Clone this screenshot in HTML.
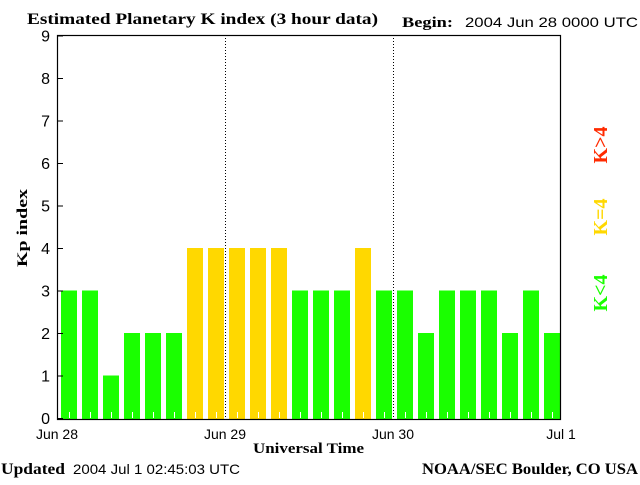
<!DOCTYPE html>
<html><head><meta charset="utf-8"><style>
body{margin:0;background:#fff;}
svg text{font-family:"Liberation Sans",sans-serif;}
</style></head><body>
<svg id="chart" width="640" height="480" xmlns="http://www.w3.org/2000/svg">
<text x="27" y="24" font-size="16" textLength="351" lengthAdjust="spacingAndGlyphs" style="font-family:'Liberation Serif',serif;font-weight:bold">Estimated Planetary K index (3 hour data)</text>
<text x="402" y="27" font-size="15" textLength="51" lengthAdjust="spacingAndGlyphs" style="font-family:'Liberation Serif',serif;font-weight:bold">Begin:</text>
<text x="465" y="27" font-size="14" textLength="173" lengthAdjust="spacingAndGlyphs">2004 Jun 28 0000 UTC</text>
<g id="bars"></g>
<g id="axes"></g>
<text transform="translate(27,228) rotate(-90)" text-anchor="middle" font-size="15" textLength="78" lengthAdjust="spacingAndGlyphs" style="font-family:'Liberation Serif',serif;font-weight:bold">Kp index</text>
<text x="253" y="453" font-size="15" textLength="111" lengthAdjust="spacingAndGlyphs" style="font-family:'Liberation Serif',serif;font-weight:bold">Universal Time</text>
<text x="1" y="474" font-size="16" textLength="64" lengthAdjust="spacingAndGlyphs" style="font-family:'Liberation Serif',serif;font-weight:bold">Updated</text>
<text x="73" y="474" font-size="14" textLength="167" lengthAdjust="spacingAndGlyphs">2004 Jul  1 02:45:03 UTC</text>
<text x="422" y="474" font-size="16" textLength="216" lengthAdjust="spacingAndGlyphs" style="font-family:'Liberation Serif',serif;font-weight:bold">NOAA/SEC Boulder, CO USA</text>
<text transform="translate(607,145) rotate(-90)" text-anchor="middle" font-size="20" fill="#ff2a00" style="font-family:'Liberation Serif',serif;font-weight:bold">K&gt;4</text>
<text transform="translate(607,217) rotate(-90)" text-anchor="middle" font-size="20" fill="#ffd800" style="font-family:'Liberation Serif',serif;font-weight:bold">K=4</text>
<text transform="translate(607,293) rotate(-90)" text-anchor="middle" font-size="20" fill="#1aff00" style="font-family:'Liberation Serif',serif;font-weight:bold">K&lt;4</text>
</svg>
<script>
const kpValues=[3,3,1,2,2,2,4,4,4,4,4,3,3,3,4,3,3,2,3,3,3,2,3,2];
const yTicks=[0,1,2,3,4,5,6,7,8,9];
const dayLabels=["Jun 28","Jun 29","Jun 30","Jul 1"];
const NS="http://www.w3.org/2000/svg";
const X0=57,X1=560,Y0=418,YT=35,PPU=42.5,SLOT=21;
function y(v){return Y0-v*PPU;}
function x(i){return X0+i*SLOT;}
function mk(t,a,p){const e=document.createElementNS(NS,t);for(const k in a)e.setAttribute(k,a[k]);p.appendChild(e);return e;}
const bars=document.getElementById('bars'),axes=document.getElementById('axes');
kpValues.forEach((v,i)=>{
 const c=v>4?'#ff2a00':(v==4?'#ffd800':'#1aff00');
 const r=mk('rect',{x:x(i)+4,y:y(v),width:16,height:Y0-y(v)+1,fill:c},bars);
 
 
 const t=mk('line',{x1:x(i)+12.5,x2:x(i)+12.5,y1:Y0-6,y2:Y0,stroke:'#fff','stroke-width':1},bars);
 
 
});
[1,2].forEach(d=>{
 const l=mk('line',{x1:X0+168*d+0.5,x2:X0+168*d+0.5,y1:YT,y2:Y0+1,stroke:'#000','stroke-dasharray':'1,2'},axes);
 
 
});
const f=mk('rect',{x:X0+0.5,y:YT+0.5,width:X1-X0,height:Y0-YT+1,fill:'none',stroke:'#000','stroke-width':1.2},axes);


yTicks.forEach(v=>{
 const l=mk('line',{x1:X0,x2:X0+6,y1:y(v)+0.5,y2:y(v)+0.5,stroke:'#000'},axes);
 
 
 const t=mk('text',{x:50,y:y(v)+6,'text-anchor':'end','font-size':16},axes);
 t.textContent=v;
 
 
});
dayLabels.forEach((s,d)=>{
 const t=mk('text',{x:X0+168*d,y:439,'text-anchor':'middle','font-size':14},axes);
 t.textContent=s;
 
 
});
</script>
</body></html>
